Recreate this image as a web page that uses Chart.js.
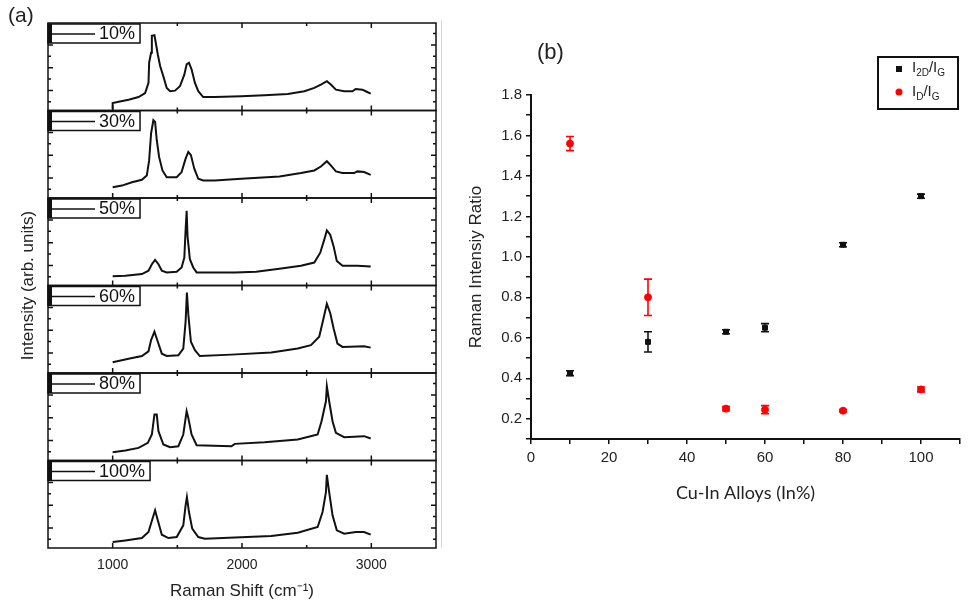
<!DOCTYPE html>
<html>
<head>
<meta charset="utf-8">
<script src="https://cdn.jsdelivr.net/npm/chart.js@4.4.1/dist/chart.umd.min.js"></script>
<style>
  html, body { margin: 0; padding: 0; background: #fff; }
  #wrap { position: relative; width: 968px; height: 602px; overflow: hidden; }
  #specChart { position: absolute; left: 0; top: 0; }
  #ratioChart { position: absolute; left: 445px; top: 0; }
</style>
</head>
<body>
<div id="wrap">
  <canvas id="specChart" width="445" height="602"></canvas>
  <canvas id="ratioChart" width="523" height="602"></canvas>
</div>
<script>
// ---- panel (a): Raman spectra, [shift cm-1, intensity arb.] ----
const specLabels = ['10%', '30%', '50%', '60%', '80%', '100%'];

const spec10 = [[1000,1.5],[1000,8.5],[1046,10],[1123,12.3],[1200,15.4],[1251,20],[1277,31.5],[1282,54.6],[1297,66],[1303,85.4],[1323,86],[1333,77.7],[1349,64],[1367,50.8],[1392,39],[1418,25.8],[1444,22],[1482,22.7],[1520,27.7],[1554,41],[1572,52.7],[1590,54.6],[1610,47],[1636,31.5],[1662,22],[1700,15.4],[1790,15.4],[1995,16.2],[2174,17.3],[2354,18.8],[2482,22],[2559,25.8],[2610,29.6],[2656,33.5],[2687,29.6],[2726,23.8],[2790,22],[2854,22],[2879,24.6],[2931,23.8],[2956,22],[2995,19.2]];
const spec30 = [[1000,12.3],[1072,14.2],[1149,18],[1226,20.8],[1264,25.8],[1282,43],[1297,73.8],[1315,89],[1328,87],[1341,66],[1359,47],[1385,31.5],[1418,23.8],[1495,23.8],[1533,29.6],[1564,45],[1585,52.7],[1605,49],[1631,33.5],[1662,22],[1700,20],[1790,20],[1995,22],[2290,24.6],[2456,28.5],[2559,31.5],[2610,36],[2656,42],[2687,37.3],[2726,30.4],[2777,28.5],[2867,28.5],[2892,30.4],[2944,29.6],[2995,26.5]];
const spec50 = [[1000,10.5],[1098,11.2],[1226,13.1],[1277,16.9],[1303,24.3],[1328,29.2],[1354,24.3],[1380,16.9],[1418,15],[1495,15.7],[1533,20.6],[1554,31.8],[1564,63.7],[1572,85.4],[1579,56.2],[1597,30],[1623,20.6],[1649,15],[1738,15],[1944,15],[2110,15.7],[2303,19.5],[2456,22.5],[2559,26.2],[2605,37.5],[2636,52.4],[2656,63],[2682,58],[2708,45],[2733,28],[2777,22.5],[2892,22.5],[2995,21.7]];
const spec60 = [[1000,12.4],[1123,16.3],[1226,19.4],[1277,24.8],[1297,37.6],[1323,47.3],[1349,35.7],[1380,22.1],[1418,19.4],[1508,20.2],[1546,27.9],[1564,58.9],[1574,91.9],[1585,66.7],[1605,35.7],[1636,26],[1674,19.4],[1918,21],[2226,23.3],[2431,27.9],[2533,31.8],[2597,41.5],[2631,62.8],[2656,79],[2682,68.6],[2708,51.2],[2738,33.7],[2777,29.8],[2944,30.6],[2995,29]];
const spec80 = [[1000,9.5],[1098,11.4],[1200,14.4],[1272,20.2],[1303,29.7],[1323,52.5],[1341,52.5],[1354,33.5],[1392,18.3],[1444,15.2],[1508,16.3],[1546,29.7],[1572,56.3],[1585,48.7],[1610,29.7],[1649,17.5],[1918,16.3],[1944,19],[2174,20.9],[2431,24],[2585,29.7],[2615,44.9],[2649,67.7],[2656,84.8],[2674,67.7],[2700,44.9],[2726,31.6],[2790,26.6],[2944,27.8],[2995,25.1]];
const spec100 = [[1000,6.8],[1098,8.7],[1226,11.4],[1277,18.3],[1308,33.5],[1328,43],[1349,31.6],[1380,15.2],[1431,11.4],[1495,12.5],[1546,25.9],[1564,48.7],[1574,58.2],[1590,41.1],[1615,22.1],[1662,12.5],[1713,10.6],[2226,13.7],[2431,17.5],[2585,24],[2623,41.1],[2649,63.9],[2656,83.7],[2674,63.9],[2700,37.3],[2733,20.2],[2790,16.3],[2880,18.3],[2944,18.3],[2995,15.2]];
const spectra = [spec10, spec30, spec50, spec60, spec80, spec100];
const specTicks = [10, 23, 36, 49, 62, 75, 88];

// ---- panel (b): intensity ratios vs In content ----
const alloyPct = [10, 30, 50, 60, 80, 100];
const ratio2DG = [0.425, 0.58, 0.63, 0.65, 1.06, 1.30];
const err2DG = [0.012, 0.05, 0.01, 0.02, 0.01, 0.01];
const ratioDG = [1.56, 0.80, 0.25, 0.245, 0.24, 0.345];
const errDG = [0.035, 0.09, 0.01, 0.02, 0.006, 0.012];

const FONT = "'Liberation Sans', Arial, sans-serif";
Chart.defaults.font.family = FONT;
Chart.defaults.color = '#222';

// frames, inward ticks and label boxes for the stacked spectra
const specFrame = {
  id: 'specFrame',
  afterDatasetsDraw(chart) {
    const ctx = chart.ctx, xs = chart.scales.x, area = chart.chartArea;
    const xt = xs.ticks.map(t => t.value).filter(v => v > xs.min && v < xs.max);
    ctx.save();
    // faint separator between the two panels
    ctx.strokeStyle = '#d6d6d6'; ctx.lineWidth = 1;
    ctx.beginPath(); ctx.moveTo(441.5, 20); ctx.lineTo(441.5, 548); ctx.stroke();

    ctx.strokeStyle = '#111'; ctx.lineWidth = 1.5;
    specLabels.forEach((lab, i) => {
      const ys = chart.scales['y' + i];
      const top = ys.top, bot = ys.bottom;
      ctx.strokeRect(area.left, top, area.right - area.left, bot - top);
      ctx.beginPath();
      xt.forEach(v => {
        const px = xs.getPixelForValue(v), len = v % 1000 === 0 ? 5 : 3;
        ctx.moveTo(px, bot); ctx.lineTo(px, bot - len);
        ctx.moveTo(px, top); ctx.lineTo(px, top + len);
      });
      specTicks.forEach((v, k) => {
        const py = ys.getPixelForValue(v), len = k % 2 ? 5 : 3;
        ctx.moveTo(area.left, py); ctx.lineTo(area.left + len, py);
        ctx.moveTo(area.right, py); ctx.lineTo(area.right - len, py);
      });
      ctx.stroke();

      // label box
      ctx.font = '18px ' + FONT;
      const tw = ctx.measureText(lab).width;
      const bx = area.left, by = top + 1, bw = 51 + tw + 5, bh = 19;
      ctx.fillStyle = '#fff';
      ctx.fillRect(bx, by, bw, bh);
      ctx.strokeRect(bx, by, bw, bh);
      ctx.fillStyle = '#111';
      ctx.fillRect(bx, by, 4, bh);
      ctx.beginPath(); ctx.moveTo(bx + 4, by + 10); ctx.lineTo(bx + 47, by + 10); ctx.stroke();
      ctx.textBaseline = 'middle'; ctx.textAlign = 'left';
      ctx.fillText(lab, bx + 51, by + 10.5);
    });

    // y title spanning all panels
    const midY = (chart.scales.y0.top + chart.scales['y' + (specLabels.length - 1)].bottom) / 2;
    ctx.translate(28, midY); ctx.rotate(-Math.PI / 2);
    ctx.font = '17px ' + FONT; ctx.fillStyle = '#222'; ctx.textAlign = 'center';
    ctx.fillText('Intensity (arb. units)', 0, 0);
    ctx.restore();

    ctx.save();
    ctx.font = '21px ' + FONT; ctx.fillStyle = '#222'; ctx.textBaseline = 'middle';
    ctx.fillText('(a)', 8, 16);
    ctx.restore();
  }
};

const specScales = {
  x: {
    type: 'linear', position: 'bottom', min: 500, max: 3500,
    ticks: { stepSize: 500, autoSkip: false, padding: 9, font: { size: 14 }, color: '#222',
      callback: v => (v % 1000 === 0 && v >= 1000 && v <= 3000) ? v : '' },
    grid: { display: false, drawTicks: false, tickLength: 0 },
    border: { display: false },
    title: { display: true, text: 'Raman Shift (cm\u207B\u00B9)', font: { size: 17 }, padding: { top: 0, bottom: 0 }, color: '#222' },
    afterFit: s => { s.height = 54; }
  }
};
// stacked scales are laid out bottom-up, so add the last panel first
for (let i = specLabels.length - 1; i >= 0; i--) {
  specScales['y' + i] = {
    type: 'linear', position: 'left', stack: 'spec', stackWeight: 1, min: 0, max: 100, offset: false,
    ticks: { display: false },
    grid: { display: false, drawTicks: false, tickLength: 0 },
    border: { display: false },
    afterFit: s => { s.width = 0; }
  };
}

new Chart(document.getElementById('specChart'), {
  type: 'line',
  data: {
    datasets: spectra.map((sp, i) => ({
      label: specLabels[i],
      data: sp.map(p => ({ x: p[0], y: p[1] })),
      yAxisID: 'y' + i,
      borderColor: '#111', borderWidth: 2, pointRadius: 0, tension: 0, fill: false
    }))
  },
  options: {
    responsive: false, animation: false, devicePixelRatio: 1,
    layout: { padding: { left: 48, top: 23, right: 8, bottom: 0 } },
    plugins: { legend: { display: false }, tooltip: { enabled: false } },
    scales: specScales
  },
  plugins: [specFrame]
});

// error bars, legend and panel label for (b)
const errBars = {
  id: 'errBars',
  afterDatasetsDraw(chart) {
    const ctx = chart.ctx, xs = chart.scales.x, ys = chart.scales.y;
    chart.data.datasets.forEach(ds => {
      ctx.save();
      ctx.strokeStyle = ds.borderColor; ctx.lineWidth = 1.6;
      ds.data.forEach((p, i) => {
        const e = ds.errors[i], px = xs.getPixelForValue(p.x);
        const y1 = ys.getPixelForValue(p.y + e), y2 = ys.getPixelForValue(p.y - e);
        ctx.beginPath();
        ctx.moveTo(px, y1); ctx.lineTo(px, y2);
        ctx.moveTo(px - 4, y1); ctx.lineTo(px + 4, y1);
        ctx.moveTo(px - 4, y2); ctx.lineTo(px + 4, y2);
        ctx.stroke();
      });
      ctx.restore();
    });
  }
};

function drawSubText(ctx, x, y, parts) {
  parts.forEach(([txt, sub]) => {
    ctx.font = (sub ? '10px ' : '15px ') + FONT;
    ctx.fillText(txt, x, sub ? y + 5 : y);
    x += ctx.measureText(txt).width;
  });
}

const ratioLegend = {
  id: 'ratioLegend',
  afterDraw(chart) {
    const ctx = chart.ctx, area = chart.chartArea;
    const bx = area.right - 82, by = 57, bw = 80, bh = 52;
    ctx.save();
    ctx.strokeStyle = '#111'; ctx.lineWidth = 2;
    ctx.strokeRect(bx, by, bw, bh);
    ctx.fillStyle = '#111';
    ctx.fillRect(bx + 18, by + 9, 6, 6);
    ctx.fillStyle = '#f00';
    ctx.beginPath(); ctx.arc(bx + 21, by + 35, 3.5, 0, Math.PI * 2); ctx.fill();
    ctx.fillStyle = '#222'; ctx.textBaseline = 'middle'; ctx.textAlign = 'left';
    drawSubText(ctx, bx + 34, by + 11, [['I', false], ['2D', true], ['/I', false], ['G', true]]);
    drawSubText(ctx, bx + 34, by + 35, [['I', false], ['D', true], ['/I', false], ['G', true]]);
    ctx.font = '22px ' + FONT; ctx.fillStyle = '#222';
    ctx.fillText('(b)', 92, 53);
    ctx.restore();
  }
};

new Chart(document.getElementById('ratioChart'), {
  type: 'scatter',
  data: {
    datasets: [
      {
        label: 'I2D/IG',
        data: alloyPct.map((x, i) => ({ x: x, y: ratio2DG[i] })),
        errors: err2DG,
        borderColor: '#111', backgroundColor: '#111',
        pointStyle: 'rect', pointRadius: 3.5
      },
      {
        label: 'ID/IG',
        data: alloyPct.map((x, i) => ({ x: x, y: ratioDG[i] })),
        errors: errDG,
        borderColor: '#f00', backgroundColor: '#f00',
        pointStyle: 'circle', pointRadius: 3.5
      }
    ]
  },
  options: {
    responsive: false, animation: false, devicePixelRatio: 1,
    layout: { padding: { left: 17, top: 95, right: 8, bottom: 94 } },
    plugins: { legend: { display: false }, tooltip: { enabled: false } },
    scales: {
      x: {
        type: 'linear', min: 0, max: 110,
        ticks: { stepSize: 10, autoSkip: false, padding: 5, font: { size: 15 }, color: '#222',
          callback: v => v % 20 === 0 ? v : '' },
        grid: { drawOnChartArea: false, tickLength: 5, color: '#111', lineWidth: 1.5 },
        border: { color: '#111', width: 2 },
        title: { display: true, text: 'Cu-In Alloys (In%)', font: { family: "Lato, 'Open Sans', sans-serif", size: 18 },
          padding: { top: 0, bottom: 4 }, color: '#222' },
        afterFit: s => { s.height = 69; }
      },
      y: {
        type: 'linear', min: 0.1, max: 1.8,
        ticks: { stepSize: 0.1, autoSkip: false, padding: 4, font: { size: 15 }, color: '#222',
          callback: v => Math.round(v * 10) % 2 === 0 ? v.toFixed(1) : '' },
        grid: { drawOnChartArea: false, tickLength: 5, color: '#111', lineWidth: 1.5 },
        border: { color: '#111', width: 2 },
        title: { display: true, text: 'Raman Intensiy Ratio', font: { size: 17 }, padding: { top: 4, bottom: 4 }, color: '#222' },
        afterFit: s => { s.width = 69; }
      }
    }
  },
  plugins: [errBars, ratioLegend]
});
</script>
</body>
</html>
